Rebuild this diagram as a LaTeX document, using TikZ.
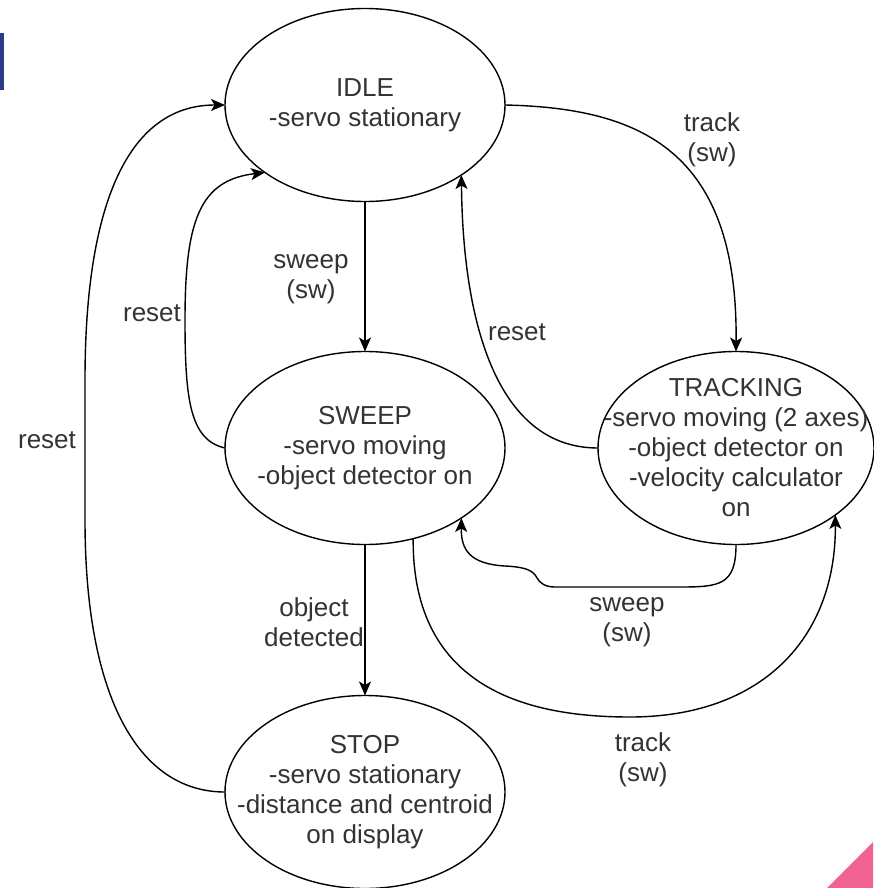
\documentclass[tikz,border=0pt]{standalone}
\usepackage{fontspec}
\setmainfont{Liberation Sans}
\usetikzlibrary{shapes.geometric,arrows.meta}

\definecolor{barblue}{RGB}{44,58,140}
\definecolor{cornerpink}{RGB}{240,98,146}
\definecolor{labeltext}{RGB}{51,51,51}

\tikzset{
  % fixed-size ellipse; the negative inner sep keeps long lines from growing it
  state/.style={ellipse, draw=black, line width=1.4pt, minimum width=280pt,
    minimum height=193pt, inner sep=-40pt, outer sep=0pt, align=center,
    text=labeltext, font=\fontsize{26}{30}\selectfont},
  trans/.style={draw=black, line width=1.4pt,
    -{Stealth[length=14pt,width=12pt,inset=3.5pt]}},
  edgelabel/.style={align=center, text=labeltext, inner sep=0pt,
    font=\fontsize{26}{30}\selectfont}
}

\begin{document}
\begin{tikzpicture}[x=1pt,y=-1pt]
  \useasboundingbox (0,0) rectangle (873,888);

  % page decorations
  \fill[barblue] (0,33) rectangle (4,90);
  \fill[cornerpink] (827,888) -- (873,842) -- (873,888) -- cycle;

  % states
  \node[state] (idle) at (365,105) {IDLE\\-servo stationary};
  \node[state] (sweep) at (365,448) {SWEEP\\-servo moving\\-object detector on};
  \node[state, minimum width=276pt] (tracking) at (736,448)
    {TRACKING\\-servo moving (2 axes)\\-object detector on\\-velocity calculator\\on};
  \node[state] (stop) at (365,792) {STOP\\-servo stationary\\-distance and centroid\\on display};

  % straight transitions down the middle
  \draw[trans] (idle.south) -- (sweep.north);
  \draw[trans] (sweep.south) -- (stop.north);

  % idle -> tracking
  \draw[trans] (idle.east) .. controls (640,108) and (738,150) .. (tracking.north);

  % tracking -> idle
  \draw[trans] (tracking.west) .. controls (500,448) and (463,330) .. (idle.-36);

  % sweep -> idle
  \draw[trans] (sweep.west) .. controls (190,440) and (185,400) .. (185,320)
    .. controls (185,220) and (200,180) .. (idle.214);

  % stop -> idle
  \draw[trans] (stop.west) .. controls (140,792) and (85,700) .. (85,520)
    -- (85,380) .. controls (85,200) and (130,105) .. (idle.west);

  % tracking -> sweep
  \draw[trans] (tracking.south) .. controls (736,585) and (720,587) .. (680,587)
    -- (555,587) .. controls (545,587) and (540,583) .. (537,578)
    .. controls (533,570) and (525,567) .. (505,566)
    .. controls (470,564) and (461,550) .. (sweep.-36);

  % sweep -> tracking
  \draw[trans] (sweep.-62) .. controls (412,690) and (530,717) .. (630,717)
    .. controls (760,717) and (836,640) .. (tracking.-34);

  % transition labels
  \node[edgelabel] (lsweep) at (311,279) {sweep\\(sw)};
  \node[edgelabel] (ldetect) at (314,622) {object\\detected};
  \node[edgelabel] (ltracktop) at (712,140) {track\\(sw)};
  \node[edgelabel] (lresetr) at (517,332) {reset};
  \node[edgelabel] (lresetin) at (152,313) {reset};
  \node[edgelabel] (lresetout) at (47,440) {reset};
  \node[edgelabel] (lsweepbot) at (627,622) {sweep\\(sw)};
  \node[edgelabel] (ltrackbot) at (643,760) {track\\(sw)};
\end{tikzpicture}
\end{document}
